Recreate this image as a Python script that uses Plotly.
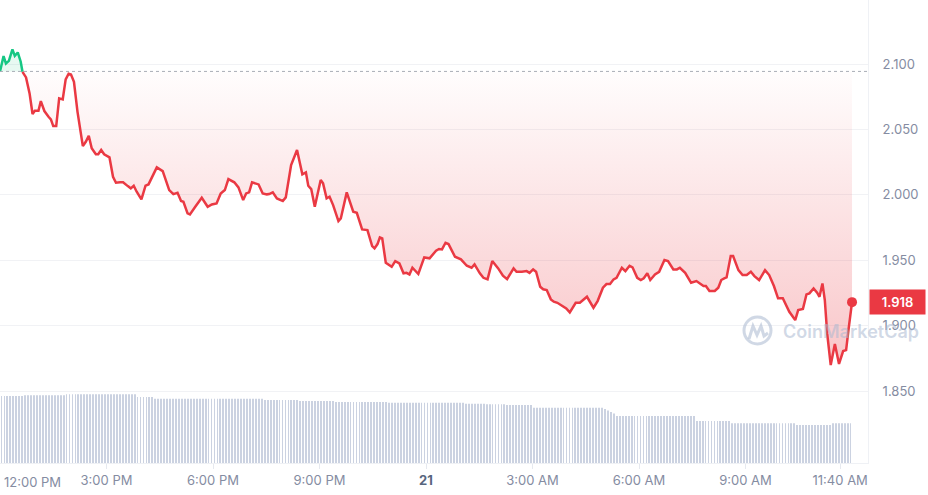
import pandas as pd
import plotly.graph_objects as go

# 24h window, minutes after 12:00 PM
start = pd.Timestamp("2024-12-20 12:00")

price_minutes = [
    0, 6, 10, 15, 21, 25, 30, 35, 38, 44,
    50, 55, 59, 65, 69, 75, 82, 86, 90, 95,
    100, 106, 111, 116, 120, 125, 131, 135, 140, 145,
    150, 155, 162, 166, 171, 176, 185, 191, 196, 203,
    208, 216, 221, 226, 231, 239, 246, 251, 265, 275,
    286, 293, 300, 306, 310, 317, 321, 330, 341, 351,
    358, 366, 373, 380, 386, 396, 403, 411, 416, 421,
    426, 437, 444, 451, 455, 461, 468, 478, 483, 492,
    502, 511, 517, 521, 526, 532, 542, 546, 552, 557,
    563, 572, 576, 586, 597, 603, 612, 621, 629, 633,
    638, 642, 646, 652, 662, 668, 675, 682, 687, 692,
    697, 707, 717, 726, 737, 742, 747, 753, 758, 769,
    779, 789, 797, 802, 811, 817, 824, 832, 842, 850,
    857, 868, 873, 882, 890, 895, 901, 906, 913, 918,
    924, 931, 936, 942, 948, 957, 963, 973, 980, 992,
    1003, 1010, 1019, 1025, 1031, 1037, 1042, 1051, 1057, 1064,
    1069, 1077, 1083, 1088, 1094, 1099, 1107, 1114, 1123, 1129,
    1138, 1144, 1149, 1158, 1168, 1177, 1189, 1193, 1199, 1208,
    1214, 1219, 1224, 1228, 1235, 1239, 1248, 1255, 1262, 1269,
    1275, 1283, 1293, 1300, 1308, 1315, 1323, 1334, 1344, 1349,
    1357, 1363, 1368, 1375, 1381, 1385, 1390, 1394, 1398, 1404,
    1411, 1418, 1425, 1430, 1434, 1440,
]

prices = [
    2.0944, 2.1061, 2.1005, 2.1025, 2.1112, 2.1063, 2.1089, 2.1018, 2.0941, 2.0898,
    2.0776, 2.0618, 2.0643, 2.0643, 2.0717, 2.0641, 2.0597, 2.0577, 2.0526, 2.0526,
    2.0738, 2.0730, 2.0883, 2.0926, 2.0921, 2.0865, 2.0635, 2.0521, 2.0373, 2.0406,
    2.0452, 2.0356, 2.0310, 2.0310, 2.0343, 2.0310, 2.0287, 2.0138, 2.0093, 2.0096,
    2.0096, 2.0067, 2.0050, 2.0070, 2.0024, 1.9966, 2.0070, 2.0080, 2.0210, 2.0182,
    2.0037, 2.0006, 2.0016, 1.9953, 1.9947, 1.9859, 1.9851, 1.9909, 1.9978, 1.9909,
    1.9927, 1.9935, 2.0011, 2.0037, 2.0121, 2.0096, 2.0057, 1.9960, 2.0011, 2.0019,
    2.0096, 2.0080, 2.0011, 2.0004, 2.0006, 2.0019, 1.9973, 1.9953, 1.9981, 2.0228,
    2.0343, 2.0157, 2.0172, 2.0070, 2.0044, 1.9909, 2.0113, 2.0088, 1.9973, 1.9986,
    1.9922, 1.9800, 1.9820, 2.0019, 1.9871, 1.9863, 1.9736, 1.9731, 1.9609, 1.9591,
    1.9624, 1.9675, 1.9667, 1.9481, 1.9450, 1.9494, 1.9476, 1.9400, 1.9404, 1.9392,
    1.9443, 1.9395, 1.9522, 1.9515, 1.9573, 1.9586, 1.9583, 1.9634, 1.9624, 1.9527,
    1.9507, 1.9458, 1.9443, 1.9469, 1.9400, 1.9366, 1.9354, 1.9494, 1.9438, 1.9382,
    1.9356, 1.9438, 1.9412, 1.9412, 1.9417, 1.9404, 1.9430, 1.9412, 1.9297, 1.9278,
    1.9272, 1.9201, 1.9183, 1.9175, 1.9158, 1.9132, 1.9102, 1.9175, 1.9175, 1.9221,
    1.9137, 1.9188, 1.9290, 1.9318, 1.9318, 1.9354, 1.9366, 1.9443, 1.9417, 1.9458,
    1.9446, 1.9366, 1.9349, 1.9362, 1.9400, 1.9349, 1.9392, 1.9412, 1.9502, 1.9494,
    1.9430, 1.9430, 1.9443, 1.9404, 1.9328, 1.9341, 1.9303, 1.9303, 1.9265, 1.9265,
    1.9290, 1.9349, 1.9362, 1.9369, 1.9532, 1.9532, 1.9425, 1.9387, 1.9387, 1.9412,
    1.9379, 1.9349, 1.9425, 1.9387, 1.9303, 1.9209, 1.9209, 1.9106, 1.9043, 1.9119,
    1.9127, 1.9239, 1.9247, 1.9285, 1.9252, 1.9221, 1.9323, 1.9196, 1.8941, 1.8699,
    1.8859, 1.8707, 1.8806, 1.8813, 1.8966, 1.918,
]

# 24h volume (billions), one bar per 5 minutes
volume = [
    6.70, 6.70, 6.70, 6.70, 6.70, 6.70, 6.70, 6.70, 6.77, 6.77, 6.77, 6.77,
    6.77, 6.77, 6.77, 6.77, 6.77, 6.77, 6.77, 6.77, 6.77, 6.77, 6.87, 6.87,
    6.87, 6.87, 6.87, 6.87, 6.87, 6.87, 6.87, 6.87, 6.87, 6.87, 6.87, 6.87,
    6.87, 6.87, 6.87, 6.87, 6.87, 6.87, 6.87, 6.87, 6.87, 6.87, 6.60, 6.60,
    6.60, 6.60, 6.60, 6.60, 6.43, 6.43, 6.43, 6.43, 6.43, 6.43, 6.43, 6.43,
    6.43, 6.43, 6.43, 6.43, 6.43, 6.43, 6.43, 6.43, 6.43, 6.43, 6.43, 6.43,
    6.43, 6.43, 6.43, 6.43, 6.43, 6.43, 6.43, 6.43, 6.43, 6.43, 6.43, 6.43,
    6.43, 6.43, 6.43, 6.43, 6.43, 6.30, 6.30, 6.30, 6.30, 6.30, 6.30, 6.30,
    6.30, 6.30, 6.30, 6.30, 6.30, 6.20, 6.20, 6.20, 6.20, 6.20, 6.20, 6.20,
    6.20, 6.20, 6.20, 6.20, 6.20, 6.10, 6.10, 6.10, 6.10, 6.10, 6.10, 6.10,
    6.10, 6.10, 6.10, 6.10, 6.10, 6.10, 6.10, 6.10, 6.10, 6.10, 6.10, 6.03,
    6.03, 6.03, 6.03, 6.03, 6.03, 6.03, 6.03, 6.03, 6.03, 6.03, 6.03, 6.03,
    6.03, 6.03, 6.03, 6.03, 6.03, 6.03, 6.03, 6.03, 6.03, 6.03, 6.03, 6.03,
    6.03, 5.93, 5.93, 5.93, 5.93, 5.93, 5.93, 5.93, 5.87, 5.87, 5.87, 5.87,
    5.87, 5.87, 5.87, 5.80, 5.80, 5.80, 5.80, 5.80, 5.80, 5.80, 5.80, 5.80,
    5.53, 5.53, 5.53, 5.53, 5.53, 5.53, 5.53, 5.53, 5.53, 5.53, 5.53, 5.53,
    5.53, 5.53, 5.53, 5.53, 5.53, 5.53, 5.53, 5.53, 5.53, 5.53, 5.53, 5.53,
    5.40, 5.25, 5.10, 4.95, 4.70, 4.70, 4.70, 4.70, 4.70, 4.70, 4.70, 4.70,
    4.70, 4.70, 4.70, 4.70, 4.70, 4.70, 4.70, 4.70, 4.70, 4.70, 4.70, 4.70,
    4.70, 4.70, 4.70, 4.70, 4.70, 4.70, 4.70, 4.20, 4.20, 4.20, 4.20, 4.20,
    4.20, 4.20, 4.20, 4.20, 4.20, 4.20, 4.20, 3.97, 3.97, 3.97, 3.97, 3.97,
    3.97, 3.97, 3.97, 3.97, 3.97, 3.97, 3.97, 3.97, 3.97, 3.97, 3.97, 3.97,
    3.97, 3.97, 3.97, 3.97, 3.97, 3.80, 3.80, 3.80, 3.80, 3.80, 3.80, 3.80,
    3.80, 3.80, 3.80, 3.80, 3.80, 3.97, 3.97, 3.97, 3.97, 3.97, 3.97, 3.97,
]

price_ticks = [1.85, 1.90, 1.95, 2.00, 2.05, 2.10]
time_tick_minutes = [180, 360, 540, 720, 900, 1080, 1260, 1420]
time_tick_labels = ["3:00 PM", "6:00 PM", "9:00 PM", "<b><span style='color:#58667e'>21</span></b>",
                    "3:00 AM", "6:00 AM", "9:00 AM", "11:40 AM"]

RED = "#ea3943"
GREEN = "#16c784"
GRAY = "#858ca2"
PLOT_W, PLOT_H = 868, 463

open_price = prices[0]
x = start + pd.to_timedelta(price_minutes, unit="min")
vol_x = pd.date_range(start + pd.Timedelta(minutes=2.5), periods=len(volume), freq="5min")
cross = 8  # point where price drops under the open


def px(xp, yp):
    return xp / PLOT_W, 1 - yp / PLOT_H


fig = go.Figure()

fig.add_trace(go.Bar(x=vol_x, y=volume, yaxis="y2", width=85000,
                     marker=dict(color="#cbd2e1", line_width=0), hoverinfo="skip"))

# green part above the open
fig.add_trace(go.Scatter(x=[x[0], x[cross]], y=[open_price, open_price], mode="lines",
                         line=dict(width=0), hoverinfo="skip"))
fig.add_trace(go.Scatter(x=x[:cross + 1], y=prices[:cross + 1], mode="lines", fill="tonexty",
                         fillcolor="rgba(22,199,132,0.10)", line=dict(color=GREEN, width=2.5)))

# red part below the open
fig.add_trace(go.Scatter(x=[x[cross], x[-1]], y=[open_price, open_price], mode="lines",
                         line=dict(width=0), hoverinfo="skip"))
fig.add_trace(go.Scatter(
    x=x[cross:], y=prices[cross:], mode="lines", fill="tonexty",
    fillgradient=dict(type="vertical", start=1.86, stop=open_price,
                      colorscale=[[0, "rgba(234,57,67,0.30)"], [1, "rgba(234,57,67,0.01)"]]),
    line=dict(color=RED, width=2.5)))

fig.add_trace(go.Scatter(x=[x[-1]], y=[prices[-1]], mode="markers",
                         marker=dict(color=RED, size=10)))

fig.add_shape(type="line", xref="paper", x0=0, x1=1, yref="y", y0=open_price, y1=open_price,
              line=dict(color="#a9adb6", width=1, dash="dot"))

# watermark
wm = "rgba(170,184,208,0.55)"
cx0, cy0 = px(744, 317)
cx1, cy1 = px(771, 344)
fig.add_shape(type="circle", xref="paper", yref="paper", x0=cx0, y0=cy1, x1=cx1, y1=cy0,
              line=dict(color=wm, width=3))
pts = [(749, 339), (753, 326), (757, 335), (761, 326), (764, 336), (768, 333)]
path = "M " + " L ".join(f"{px(a, b)[0]},{px(a, b)[1]}" for a, b in pts)
fig.add_shape(type="path", xref="paper", yref="paper", path=path, line=dict(color=wm, width=3))
fig.add_annotation(text="CoinMarketCap", xref="paper", yref="paper", x=px(781, 0)[0], y=px(0, 331)[1],
                   xanchor="left", yanchor="middle", showarrow=False,
                   font=dict(family="Inter", size=18, color=wm, weight=600))

fig.add_annotation(text="1.918", xref="paper", x=1, xanchor="left", xshift=1, yref="y", y=prices[-1],
                   showarrow=False, bgcolor=RED, width=51, height=20, borderpad=2,
                   font=dict(family="Inter", size=13, color="white", weight=600))

fig.add_annotation(text="12:00 PM", xref="paper", x=0, xanchor="left", xshift=2,
                   yref="paper", y=0, yanchor="top", yshift=-9, showarrow=False,
                   font=dict(family="Inter", size=13, color=GRAY))

fig.update_layout(
    width=928, height=495,
    margin=dict(l=0, r=60, t=0, b=32, autoexpand=False),
    plot_bgcolor="white", paper_bgcolor="white",
    showlegend=False,
    font=dict(family="Inter", size=13, color=GRAY),
    xaxis=dict(
        type="date", automargin=False,
        range=[start, start + pd.Timedelta(minutes=1467)],
        tickvals=[start + pd.Timedelta(minutes=m) for m in time_tick_minutes],
        ticktext=time_tick_labels,
        ticks="outside", ticklen=5, tickcolor="#e6e9ef",
        showgrid=False, zeroline=False,
        showline=True, linecolor="#eff1f5",
    ),
    yaxis=dict(
        side="right", automargin=False,
        range=[1.795, 2.149],
        tickvals=price_ticks,
        ticktext=[f"{v:.3f}" for v in price_ticks],
        ticks="", ticklabelstandoff=11,
        showgrid=True, gridcolor="#f1f2f5",
        showline=True, linecolor="#eff1f5",
        zeroline=False,
    ),
    yaxis2=dict(overlaying="y", range=[0, 46.3], visible=False),
)

# the page's default body margin would push the chart off by 8px
fig.write_html("out.html", config={"displayModeBar": False},
               post_script="document.body.style.margin='0';")
